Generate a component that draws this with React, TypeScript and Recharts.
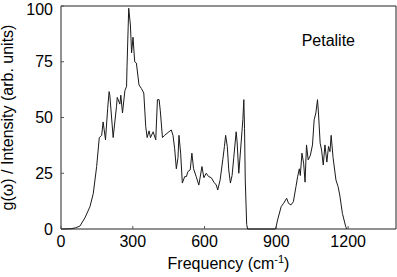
import { LineChart, Line, XAxis, YAxis, ReferenceArea, Label } from "recharts";

// phonon density of states, petalite
const frequency = [
  0, 40, 60, 79, 100, 121, 135, 149, 160, 170, 176, 186, 195, 201, 204, 218,
  232, 235, 246, 250, 257, 267, 274, 276, 283, 290, 295, 301, 308, 315, 326,
  336, 346, 354, 360, 368, 374, 385, 396, 403, 410, 415, 424, 433, 451, 461,
  468, 475, 482, 489, 493, 500, 507, 517, 524, 530, 540, 547, 554, 565, 576,
  589, 597, 607, 617, 628, 639, 649, 655, 665, 676, 683, 688, 695, 701, 708,
  715, 722, 732, 736, 743, 753, 760, 764, 767, 770, 776, 780, 895, 899, 905,
  920, 930, 943, 951, 961, 971, 982, 989, 996, 1000, 1007, 1014, 1020, 1026,
  1033, 1042, 1051, 1058, 1065, 1072, 1076, 1083, 1089, 1096, 1103, 1111,
  1118, 1124, 1129, 1137, 1149, 1158, 1165, 1176, 1190, 1195,
];
const intensity = [
  0, 0.1, 0.5, 1.3, 5, 10, 16, 28, 41, 42, 48, 40, 54, 61.6, 60, 41,
  55, 59, 56, 60, 52, 62, 64, 73, 99, 91.5, 79, 86, 75, 74.4, 64.6,
  63, 61, 46, 41, 44, 41, 43.6, 40, 58, 58, 53, 41, 42, 43.6, 44.4,
  42, 36, 27, 32, 42, 34, 20.6, 23.5, 23.5, 25.7, 26.5, 34, 27, 23.5, 19.7,
  28, 23, 25, 23.5, 23, 21, 19.7, 17.5, 22, 31, 37, 42, 37, 26.5, 20.6,
  24, 32, 43.6, 39, 25, 39, 49, 58, 45, 22, 2, 0, 0, 1, 4,
  10, 11.5, 13.8, 11.5, 10.8, 12.2, 19, 23.5, 27, 24, 34, 29.5, 21, 37.7,
  31, 33, 37.7, 49, 52, 58, 52, 38.5, 35.4, 28.7, 37.7, 30,
  37, 34.7, 42, 32, 22, 19, 15.2, 7, 1, 0,
];

const xTicks = [0, 300, 600, 900, 1200];
const yTicks = [0, 25, 50, 75, 100];
const sampleName = "Petalite";

const data = frequency.map((f, i) => ({ freq: f, g: intensity[i] }));

const font = "'Liberation Sans', Arial, sans-serif";

export default function App() {
  return (
    <div style={{ position: "absolute", left: 0, top: 0 }}>
      <LineChart
        width={397}
        height={277}
        data={data}
        margin={{ top: 6, right: 1, left: 0, bottom: 0 }}
      >
        <XAxis
          dataKey="freq"
          type="number"
          domain={[0, 1400]}
          ticks={xTicks}
          height={48}
          axisLine={false}
          tickSize={-3}
          tickMargin={10}
          tickLine={{ stroke: "#555" }}
          tick={{ fill: "#000", fontSize: 16, fontFamily: font }}
        >
          <Label
            content={(props: any) => {
              const vb = props.viewBox;
              return (
                <text
                  x={vb.x + vb.width / 2}
                  y={vb.y + 40}
                  textAnchor="middle"
                  fontSize={16}
                  fontFamily={font}
                  fill="#000"
                >
                  Frequency (cm
                  <tspan dy={-6} fontSize={11}>-1</tspan>
                  <tspan dy={6}>)</tspan>
                </text>
              );
            }}
          />
        </XAxis>
        <YAxis
          type="number"
          domain={[0, 100]}
          ticks={yTicks}
          width={61}
          axisLine={false}
          tickSize={-3}
          tickMargin={11}
          tickLine={{ stroke: "#555" }}
          tick={{ fill: "#000", fontSize: 16, fontFamily: font }}
        >
          <Label
            content={(props: any) => {
              const vb = props.viewBox;
              const cx = 13;
              const cy = vb.y + vb.height / 2;
              return (
                <text
                  x={cx}
                  y={cy}
                  transform={`rotate(-90 ${cx} ${cy})`}
                  textAnchor="middle"
                  fontSize={16}
                  fontFamily={font}
                  fill="#000"
                >
                  g(ω) / Intensity  (arb. units)
                </text>
              );
            }}
          />
        </YAxis>
        <ReferenceArea
          x1={0}
          x2={1400}
          y1={0}
          y2={100}
          fill="none"
          stroke="#222"
          strokeWidth={1}
        >
          <Label
            content={(props: any) => {
              const vb = props.viewBox;
              return (
                <text
                  x={vb.x + vb.width - 41}
                  y={vb.y + 40}
                  textAnchor="end"
                  fontSize={16}
                  fontFamily={font}
                  fill="#000"
                >
                  {sampleName}
                </text>
              );
            }}
          />
        </ReferenceArea>
        <Line
          dataKey="g"
          type="linear"
          stroke="#1a1a1a"
          strokeWidth={1}
          dot={false}
          isAnimationActive={false}
        />
      </LineChart>
    </div>
  );
}
